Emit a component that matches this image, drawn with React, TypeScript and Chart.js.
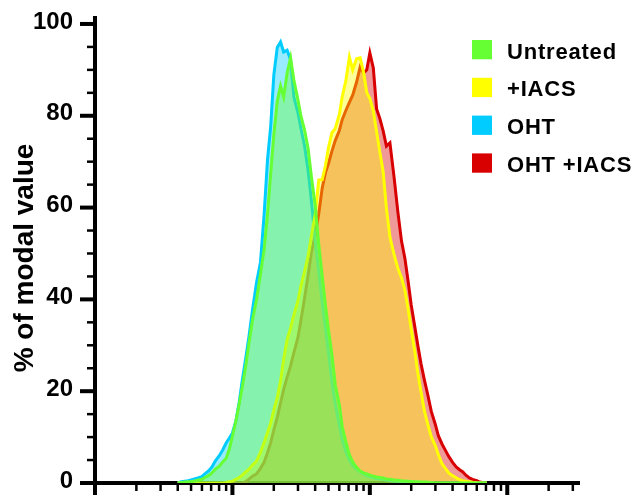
import React, { useEffect, useRef } from "react";
import { Chart, registerables } from "chart.js";

Chart.register(...registerables);

// Histogram bin centres (log-scaled fluorescence channel values)
const bins = [
  40, 42.5, 45, 47.5, 50, 53, 56, 60, 63, 67, 71, 75, 80, 85, 90, 95,
  100, 106, 112, 118, 125, 132, 140, 150, 160, 170, 180, 190, 200, 212, 224, 236,
  250, 265, 280, 300, 315, 335, 355, 375, 400, 425, 450, 475, 500, 530, 560, 600,
  630, 670, 710, 750, 800, 850, 900, 950,
  1000, 1060, 1120, 1180, 1250, 1320, 1400, 1500, 1600, 1700, 1800, 1900, 2000,
  2120, 2240, 2360, 2500, 2650, 2800, 3000, 3150, 3350, 3550, 3750, 4000, 4250,
  4500, 4750, 5000, 5300, 5600, 6000, 6300, 6700, 7100,
];

const untreated = [
  0, 0.1, 0.2, 0.3, 0.35, 0.45, 0.6, 0.8, 1.2, 1.6, 2.2, 3.0, 3.6, 4.6, 5.4, 7.4,
  10.2, 13.5, 17.2, 20.9, 25.5, 30.5, 35.5, 40.1, 45.5, 50.8, 58.6, 67.5, 75.8, 83.2, 86.5, 84.1,
  89.3, 92.6, 87.8, 83.4, 80.0, 76.9, 73.0, 66.9, 60.6, 51.9, 45.1, 38.8, 33.3, 27.9, 21.4, 17.0,
  12.2, 8.9, 6.1, 4.6, 3.4, 2.6, 2.2, 2.0,
  1.7, 1.5, 1.3, 1.2, 1.1, 0.9, 0.8, 0.65, 0.6, 0.5, 0.45, 0.4, 0.35,
  0.3, 0.25, 0.2, 0.2, 0.15, 0.1, 0, 0, 0, 0, 0, 0, 0,
  0, 0, 0, 0, 0, 0, 0, 0, 0,
];

const iacs = [
  0, 0, 0, 0, 0, 0, 0, 0, 0, 0, 0, 0, 0, 0, 0.1, 0.3,
  0.4, 0.8, 1.2, 1.7, 2.4, 3.0, 3.9, 4.8, 6.7, 8.8, 11.0, 13.1, 15.9, 18.6, 22.2, 27.0,
  31.2, 33.8, 36.6, 39.7, 42.9, 46.1, 49.3, 53.7, 58.5, 66.0, 66.1, 69.1, 73.1, 76.3, 77.2, 80.3,
  84.2, 87.7, 92.8, 90.0, 92.4, 92.6, 89.5, 85.0,
  83.8, 81.0, 76.5, 72.3, 67.8, 59.9, 53.6, 49.8, 46.8, 44.7, 42.0, 37.9, 33.6,
  28.8, 23.8, 19.8, 15.6, 12.6, 10.1, 8.1, 6.2, 4.2, 3.2, 2.2, 1.6, 1.15,
  0.7, 0.5, 0.4, 0.25, 0.15, 0.05, 0, 0, 0,
];

const oht = [
  0, 0.3, 0.4, 0.5, 0.65, 0.9, 1.1, 1.4, 2.0, 2.6, 3.5, 4.8, 5.9, 7.2, 8.7, 9.8,
  10.9, 13.5, 17.6, 22.4, 27.2, 32.0, 37.7, 43.8, 48.1, 58.4, 70.4, 77.8, 88.8, 94.9, 96.1, 93.9,
  94.3, 92.2, 84.1, 80.6, 77.3, 73.4, 68.2, 61.7, 52.9, 46.0, 39.4, 33.8, 28.5, 22.0, 17.4, 12.6,
  9.4, 6.8, 5.0, 3.9, 3.0, 2.4, 2.0, 1.6,
  1.4, 1.2, 1.0, 0.9, 0.8, 0.65, 0.55, 0.45, 0.4, 0.3, 0.25, 0.2, 0.15,
  0.1, 0, 0, 0, 0, 0, 0, 0, 0, 0, 0, 0, 0,
  0, 0, 0, 0, 0, 0, 0, 0, 0,
];

const ohtIacs = [
  0, 0, 0, 0, 0, 0, 0, 0, 0, 0, 0, 0, 0, 0, 0, 0,
  0, 0, 0, 0, 0.3, 0.85, 1.5, 2.0, 3.2, 4.5, 6.6, 8.8, 11.5, 14.3, 17.4, 20.4,
  23.0, 25.5, 28.4, 31.7, 35.4, 40.3, 45.1, 50.1, 53.9, 58.7, 64.2, 67.6, 69.6, 72.3, 74.6, 76.8,
  79.2, 81.2, 82.9, 84.5, 87.3, 90.6, 89.3, 90.0,
  93.7, 90.4, 81.5, 79.5, 76.7, 73.4, 74.1, 66.7, 59.0, 52.7, 48.9, 43.9, 38.8,
  34.2, 29.8, 25.9, 22.3, 19.0, 15.6, 12.7, 10.3, 8.5, 7.1, 5.8, 4.5, 3.5,
  2.9, 2.4, 1.7, 1.1, 0.8, 0.5, 0.2, 0.05, 0,
];

const seriesLabels = ["Untreated", "+IACS", "OHT", "OHT +IACS"];
const seriesColors = ["#66ff33", "#ffff00", "#00ccff", "#d80000"];

const yTickValues = [0, 20, 40, 60, 80, 100];
const yMinorValues = [5, 10, 15, 25, 30, 35, 45, 50, 55, 65, 70, 75, 85, 90, 95];
const xMajorValues = [10, 100, 1000, 10000];
const xMinorValues = [
  20, 30, 40, 50, 60, 70, 80, 90,
  200, 300, 400, 500, 600, 700, 800, 900,
  2000, 3000, 4000, 5000, 6000, 7000, 8000, 9000,
  20000, 30000,
];
const yTitle = "% of modal value";

const FONT = '"Liberation Sans", Arial, Helvetica, sans-serif';

function withAlpha(hex: string, a: number) {
  const r = parseInt(hex.slice(1, 3), 16);
  const g = parseInt(hex.slice(3, 5), 16);
  const b = parseInt(hex.slice(5, 7), 16);
  return `rgba(${r},${g},${b},${a})`;
}

const decorPlugin = {
  id: "decor",
  afterDraw(chart: any) {
    const { ctx, chartArea } = chart;
    const xs = chart.scales.x;
    const ys = chart.scales.y;
    const left = chartArea.left;
    const bottom = chartArea.bottom;
    ctx.save();
    ctx.strokeStyle = "#000";
    ctx.lineCap = "butt";
    const seg = (x1: number, y1: number, x2: number, y2: number, w: number) => {
      ctx.lineWidth = w;
      ctx.beginPath();
      ctx.moveTo(x1, y1);
      ctx.lineTo(x2, y2);
      ctx.stroke();
    };
    yTickValues.forEach((v) => {
      const py = ys.getPixelForValue(v);
      seg(left - 15, py, left, py, 4);
    });
    yMinorValues.forEach((v) => {
      const py = ys.getPixelForValue(v);
      seg(left - 8, py, left, py, 2.5);
    });
    xMajorValues.forEach((v) => {
      const px = xs.getPixelForValue(v);
      seg(px, bottom, px, bottom + 14, 4);
    });
    xMinorValues.forEach((v) => {
      const px = xs.getPixelForValue(v);
      seg(px, bottom, px, bottom + 8, 2.5);
    });

    // y-axis title
    ctx.save();
    ctx.translate(33, 258);
    ctx.rotate(-Math.PI / 2);
    ctx.fillStyle = "#000";
    ctx.font = `bold 28px ${FONT}`;
    ctx.textAlign = "center";
    ctx.textBaseline = "alphabetic";
    ctx.fillText(yTitle, 0, 0);
    ctx.restore();

    // legend
    const ds = chart.data.datasets;
    ctx.font = `bold 22px ${FONT}`;
    try {
      (ctx as any).letterSpacing = "0.8px";
    } catch (e) {}
    ctx.textAlign = "left";
    ctx.textBaseline = "alphabetic";
    ds.forEach((d: any, i: number) => {
      const top = 40 + i * 37.8;
      ctx.fillStyle = d.borderColor;
      ctx.fillRect(472, top, 20, 19.3);
      ctx.fillStyle = "#000";
      ctx.fillText(d.label, 507, top + 18.6);
    });
    ctx.restore();
  },
};

export default function App() {
  const canvasRef = useRef<HTMLCanvasElement | null>(null);

  useEffect(() => {
    const canvas = canvasRef.current;
    if (!canvas) return;
    const seriesValues = [untreated, iacs, oht, ohtIacs];
    const datasets = seriesValues.map((vals, i) => ({
      label: seriesLabels[i],
      data: bins.map((b, j) => ({ x: b, y: vals[j] })),
      borderColor: seriesColors[i],
      backgroundColor: withAlpha(seriesColors[i], 0.4),
      borderWidth: 3,
      pointRadius: 0,
      tension: 0,
      fill: "origin",
    }));

    const chart = new Chart(canvas, {
      type: "line",
      data: { datasets },
      plugins: [decorPlugin],
      options: {
        animation: false,
        responsive: true,
        maintainAspectRatio: false,
        events: [],
        layout: { padding: { top: 18, right: 59, bottom: 0, left: 0 }, autoPadding: false },
        plugins: {
          legend: { display: false },
          tooltip: { enabled: false },
          title: { display: false },
        },
        scales: {
          x: {
            type: "logarithmic",
            min: 10,
            max: 33270,
            z: 1,
            grid: { display: false, drawTicks: false },
            border: { display: true, color: "#000", width: 4 },
            ticks: { display: false },
            afterFit: (s: any) => {
              s.height = 12;
              s.paddingLeft = 0;
              s.paddingRight = 0;
            },
          },
          y: {
            type: "linear",
            min: 0,
            max: 101.3,
            z: 1,
            afterBuildTicks: (s: any) => {
              s.ticks = yTickValues.map((v) => ({ value: v }));
            },
            grid: { display: false, drawTicks: false },
            border: { display: true, color: "#000", width: 4 },
            ticks: {
              color: "#000",
              padding: 22,
              labelOffset: -2,
              font: { family: FONT, size: 24, weight: "bold" },
            },
            afterFit: (s: any) => {
              s.width = 95;
              s.paddingTop = 0;
              s.paddingBottom = 0;
            },
          },
        },
      } as any,
    });
    return () => chart.destroy();
  }, []);

  return (
    <div
      style={{
        position: "absolute",
        left: 0,
        top: 0,
        width: "638px",
        height: "495px",
        background: "#fff",
      }}
    >
      <canvas ref={canvasRef} />
    </div>
  );
}
